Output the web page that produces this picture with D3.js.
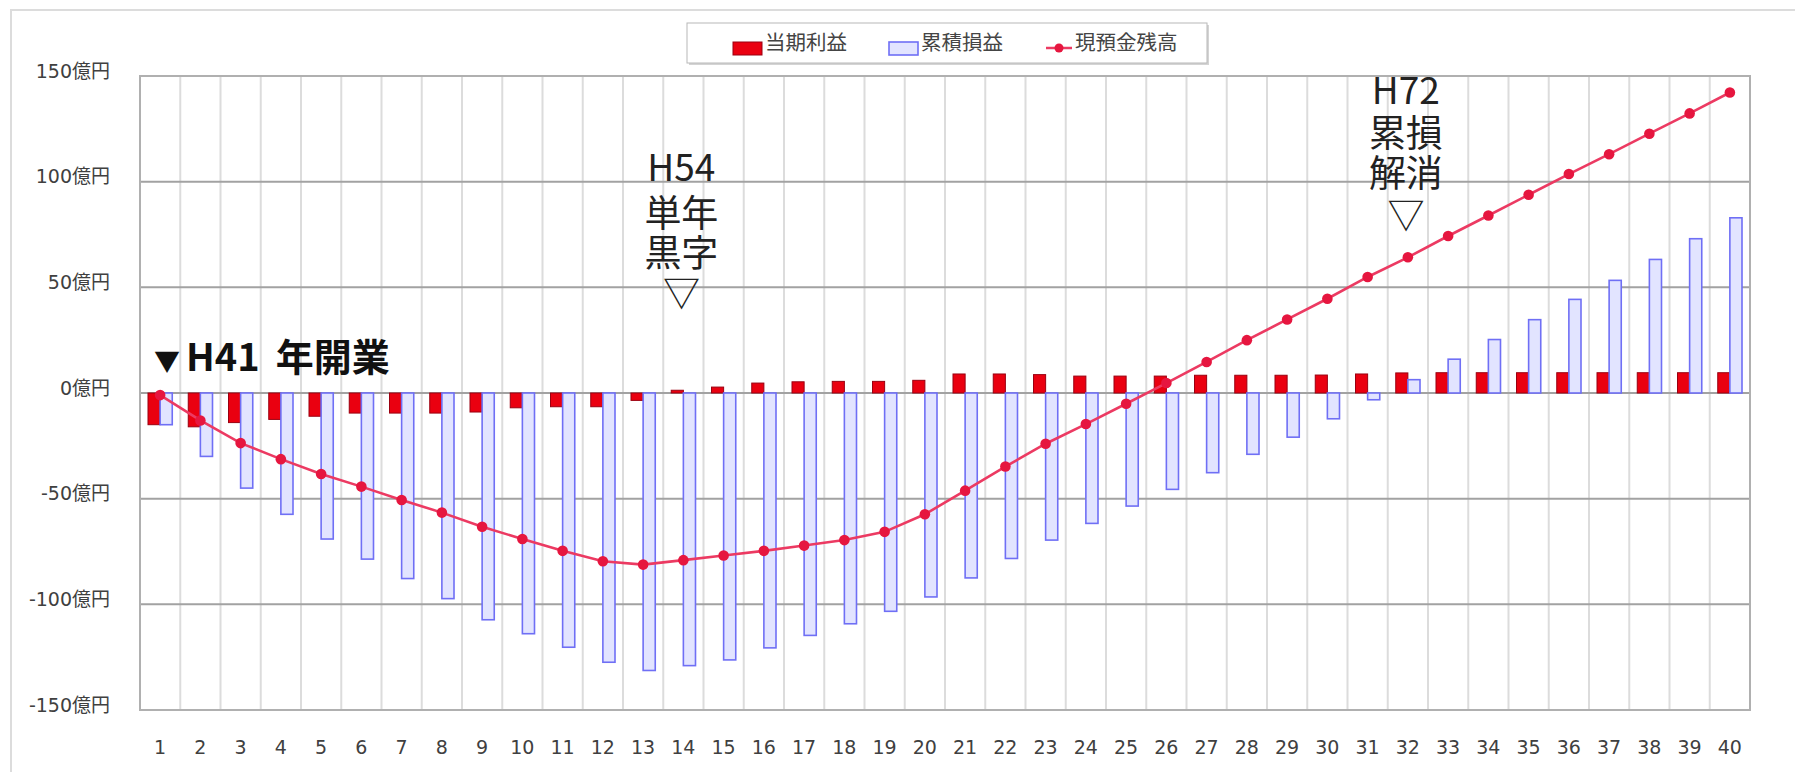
<!DOCTYPE html>
<html lang="ja">
<head>
<meta charset="utf-8">
<script src="https://cdn.jsdelivr.net/npm/d3@7"></script>
<style>
  html, body { margin: 0; padding: 0; background: #fff; }
  svg { display: block; }
</style>
</head>
<body>
<svg id="chart" width="1795" height="772"></svg>
<script>
// Fiscal years since opening (1 = H41)
const years = ["1","2","3","4","5","6","7","8","9","10",
  "11","12","13","14","15","16","17","18","19","20",
  "21","22","23","24","25","26","27","28","29","30",
  "31","32","33","34","35","36","37","38","39","40"];

// 当期利益 (億円)
const profit = [-15, -16, -14, -12.5, -11, -9.5, -9.5, -9.5, -9, -7,
  -6.5, -6.5, -3.5, 1.3, 2.8, 4.7, 5.3, 5.5, 5.5, 6,
  9, 9, 8.7, 8, 8, 8, 8.4, 8.4, 8.4, 8.5,
  9, 9.5, 9.6, 9.6, 9.6, 9.6, 9.6, 9.6, 9.6, 9.6];

// 累積損益 (億円)
const cumulative = [-15, -30, -45, -57.4, -69.1, -78.6, -87.8, -97.3, -107.3, -113.9,
  -120.3, -127.4, -131.3, -129, -126.3, -120.6, -114.7, -109.2, -103.3, -96.5,
  -87.5, -78.3, -69.6, -61.7, -53.5, -45.6, -37.7, -29, -20.9, -12.2,
  -3.2, 6.3, 16, 25.3, 34.7, 44.3, 53.3, 63.2, 73, 82.9];

// 現預金残高 (億円)
const cash = [-1, -13, -23.7, -31.3, -38.3, -44.3, -50.6, -56.6, -63.3, -69.1,
  -74.7, -79.6, -81.2, -79.1, -76.9, -74.7, -72.2, -69.6, -65.7, -57.4,
  -46.2, -34.8, -24, -14.7, -5.1, 4.7, 14.7, 25, 34.8, 44.6,
  54.9, 64.2, 74.3, 84, 93.8, 103.6, 113, 122.7, 132.3, 142.2];

const yTicks = [-150, -100, -50, 0, 50, 100, 150];
const seriesNames = ["当期利益", "累積損益", "現預金残高"];

const W = 1795, H = 772;
const plot = { left: 140, top: 76, right: 1750, bottom: 710 };
const svg = d3.select("#chart");

const labelFont = "'DejaVu Sans', 'Noto Sans CJK JP', sans-serif";
const cjkFont = "'Noto Sans CJK JP', 'Noto Sans', sans-serif";

// outer chart-area frame
svg.append("rect")
  .attr("x", 11).attr("y", 10)
  .attr("width", W).attr("height", H)
  .attr("fill", "none").attr("stroke", "#dcdcdc").attr("stroke-width", 2);

// scales
const x = d3.scaleBand().domain(years).range([plot.left, plot.right]).paddingInner(0).paddingOuter(0);
const xSub = d3.scaleBand().domain(["profit", "cumulative"])
  .range([0, x.bandwidth()]).paddingInner(0).paddingOuter(0.66);
const y = d3.scaleLinear().domain([-150, 150]).range([plot.bottom, plot.top]);

// vertical grid at category boundaries
svg.append("g").selectAll("line")
  .data(years.slice(1))
  .join("line")
  .attr("x1", d => x(d)).attr("x2", d => x(d))
  .attr("y1", plot.top).attr("y2", plot.bottom)
  .attr("stroke", "#dcdcdc").attr("stroke-width", 2);

// horizontal grid
svg.append("g").selectAll("line")
  .data(yTicks.slice(1, -1))
  .join("line")
  .attr("x1", plot.left).attr("x2", plot.right)
  .attr("y1", d => y(d)).attr("y2", d => y(d))
  .attr("stroke", "#a2a2a2").attr("stroke-width", 2);

// plot border
svg.append("rect")
  .attr("x", plot.left).attr("y", plot.top)
  .attr("width", plot.right - plot.left).attr("height", plot.bottom - plot.top)
  .attr("fill", "none").attr("stroke", "#b0b0b0").attr("stroke-width", 2);

// y axis
const yAxis = svg.append("g")
  .attr("transform", `translate(${plot.left},0)`)
  .call(d3.axisLeft(y).tickValues(yTicks).tickSize(0).tickPadding(30).tickFormat(d => d + "億円"));
yAxis.select(".domain").remove();
yAxis.selectAll("text")
  .attr("y", -5)
  .attr("fill", "#404040")
  .style("font-family", labelFont)
  .style("font-size", "19px");

// x axis
const xAxis = svg.append("g")
  .attr("transform", `translate(0,${plot.bottom})`)
  .call(d3.axisBottom(x).tickSize(0).tickPadding(31));
xAxis.select(".domain").remove();
xAxis.selectAll("text")
  .attr("fill", "#404040")
  .style("font-family", labelFont)
  .style("font-size", "19px");

// 当期利益 bars
svg.append("g").selectAll("rect")
  .data(profit)
  .join("rect")
  .attr("x", (d, i) => x(years[i]) + xSub("profit"))
  .attr("y", d => y(Math.max(0, d)))
  .attr("width", xSub.bandwidth())
  .attr("height", d => Math.abs(y(d) - y(0)))
  .attr("fill", "#ea0010")
  .attr("stroke", "#9a0010").attr("stroke-width", 1);

// 累積損益 bars
svg.append("g").selectAll("rect")
  .data(cumulative)
  .join("rect")
  .attr("x", (d, i) => x(years[i]) + xSub("cumulative"))
  .attr("y", d => y(Math.max(0, d)))
  .attr("width", xSub.bandwidth())
  .attr("height", d => Math.abs(y(d) - y(0)))
  .attr("fill", "#e2e4ff")
  .attr("stroke", "#6f6ff5").attr("stroke-width", 1.6);

// 現預金残高 line
const cx = (d, i) => x(years[i]) + x.bandwidth() / 2;
svg.append("path")
  .datum(cash)
  .attr("d", d3.line().x(cx).y(d => y(d)))
  .attr("fill", "none")
  .attr("stroke", "#ec3a62").attr("stroke-width", 2.6);
svg.append("g").selectAll("circle")
  .data(cash)
  .join("circle")
  .attr("cx", cx).attr("cy", d => y(d)).attr("r", 5.3)
  .attr("fill", "#e6163f");

// opening-year label
const openLabel = svg.append("text")
  .attr("x", 154).attr("y", 371)
  .attr("fill", "#111")
  .style("font-family", cjkFont)
  .style("font-weight", "700");
openLabel.append("tspan").style("font-size", "26px").text("▼");
openLabel.append("tspan").attr("dx", 6).style("font-size", "38px").text("H41");
openLabel.append("tspan").attr("dx", 16).style("font-size", "38px").text("年開業");

// milestone notes, one text element per block
function noteBlock(year, lines, ys) {
  const cxv = x(year) + x.bandwidth() / 2 - 2;
  const t = svg.append("text")
    .attr("fill", "#222")
    .style("font-family", cjkFont)
    .style("font-size", "37px")
    .attr("text-anchor", "middle");
  lines.forEach((s, k) => {
    t.append("tspan").attr("x", cxv).attr("y", ys[k]).text(s);
  });
}
noteBlock("14", ["H54", "単年", "黒字", "▽"], [181, 227, 267, 307]);
noteBlock("32", ["H72", "累損", "解消", "▽"], [104, 147, 187, 229]);

// legend
const lg = svg.append("g");
lg.append("rect").attr("x", 689).attr("y", 25).attr("width", 520).attr("height", 40)
  .attr("fill", "#d4d4d4");
lg.append("rect").attr("x", 687).attr("y", 23).attr("width", 520).attr("height", 40)
  .attr("fill", "#fff").attr("stroke", "#b8b8b8").attr("stroke-width", 1);

const legendText = (tx, t) => lg.append("text")
  .attr("x", tx).attr("y", 50)
  .attr("fill", "#444")
  .style("font-family", cjkFont)
  .style("font-size", "20.5px")
  .text(t);

lg.append("rect").attr("x", 733).attr("y", 42).attr("width", 29).attr("height", 13)
  .attr("fill", "#ea0010").attr("stroke", "#9a0010").attr("stroke-width", 1);
legendText(765, seriesNames[0]);

lg.append("rect").attr("x", 889).attr("y", 42).attr("width", 29).attr("height", 13)
  .attr("fill", "#e2e4ff").attr("stroke", "#6f6ff5").attr("stroke-width", 1.6);
legendText(921, seriesNames[1]);

lg.append("line").attr("x1", 1046).attr("x2", 1072).attr("y1", 48).attr("y2", 48)
  .attr("stroke", "#ec3a62").attr("stroke-width", 2.5);
lg.append("circle").attr("cx", 1059).attr("cy", 48).attr("r", 4.5).attr("fill", "#e6163f");
legendText(1075, seriesNames[2]);
</script>
</body>
</html>
